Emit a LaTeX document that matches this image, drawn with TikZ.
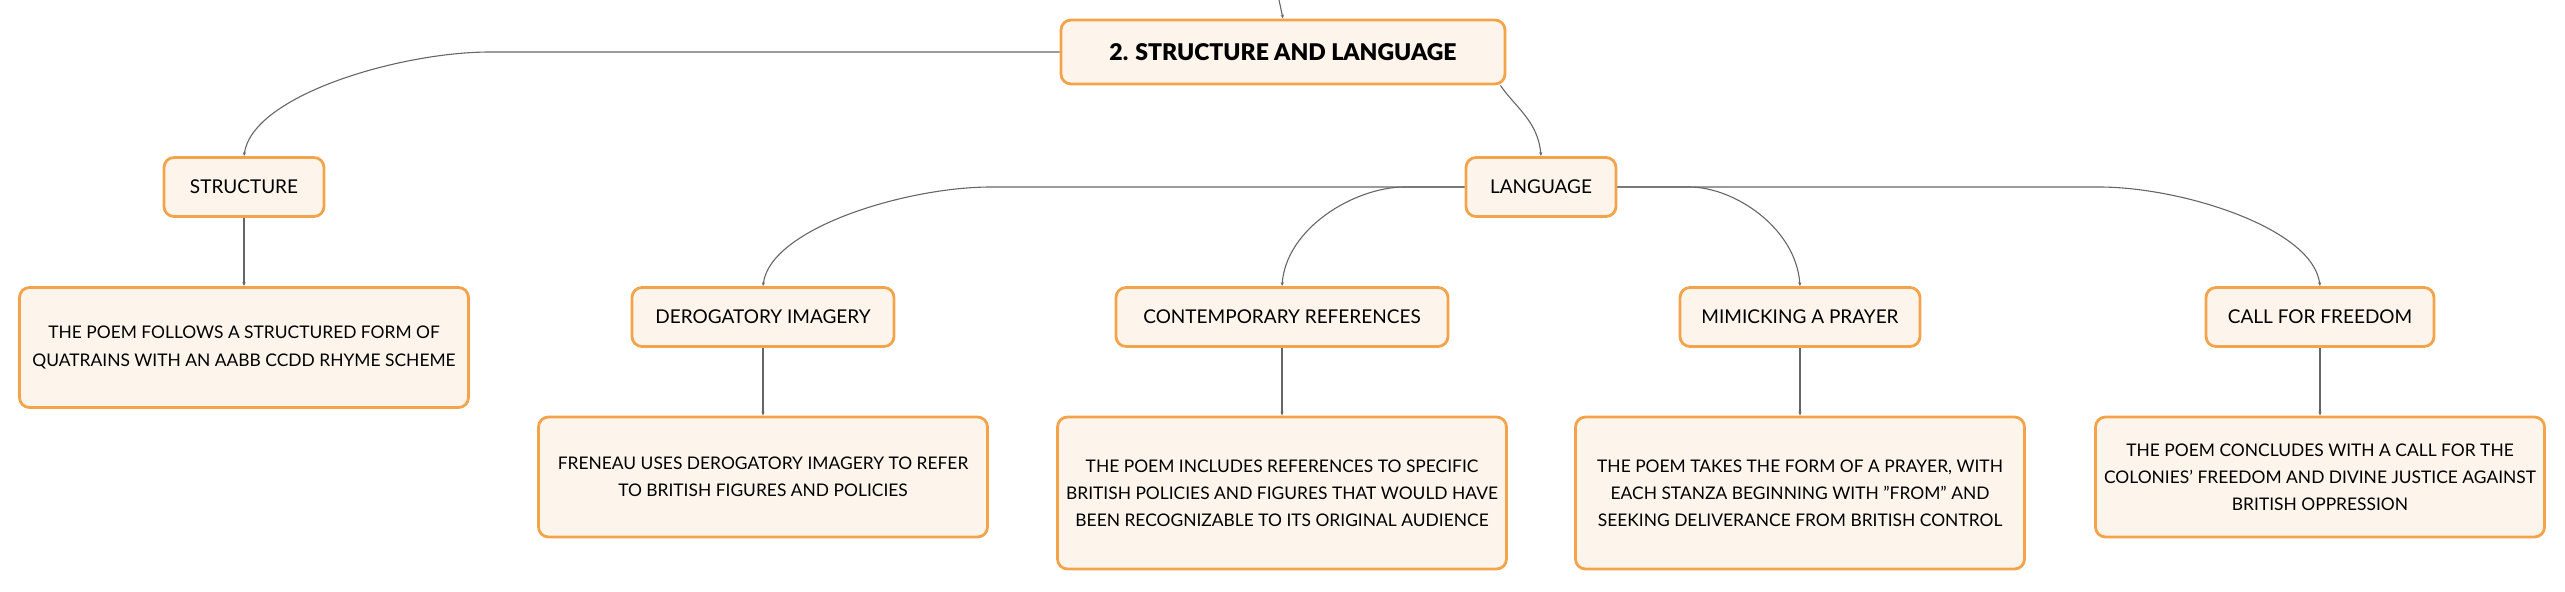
\documentclass[tikz,border=0pt]{standalone}
\usepackage{fontspec}
\setmainfont{Lato}
\newfontfamily\titlefont{Lato Black}
\usetikzlibrary{arrows.meta}

\definecolor{boxedge}{HTML}{F3A44B}
\definecolor{boxfill}{HTML}{FDF5EC}
\definecolor{linkgray}{HTML}{666666}

\tikzset{
  mapbox/.style={draw=boxedge, fill=boxfill, line width=1.4pt, rounded corners=5pt, align=center, inner sep=0pt, text=black},
  topicbox/.style={mapbox, minimum width=222pt, minimum height=32pt, font=\fontsize{11.5}{14}\selectfont\titlefont},
  branchbox/.style={mapbox, minimum height=29.5pt, font=\fontsize{9.5}{11}\selectfont},
  notebox/.style={mapbox, minimum width=224.5pt, font=\fontsize{8.7}{13.6}\selectfont},
  link/.style={draw=linkgray, line width=0.55pt, -{Stealth[length=2pt,width=1.6pt]}}
}

\begin{document}
\begin{tikzpicture}[x=0.5pt,y=0.5pt,yscale=-1,xscale=1]
\useasboundingbox (0,0) rectangle (2565,591);

% Main topic
\node[topicbox] (topic) at (1283,52) {2. STRUCTURE AND LANGUAGE};
\coordinate (entry) at (1279,0);

% Branches
\node[branchbox, minimum width=80pt] (structure) at (244,187) {STRUCTURE};
\node[branchbox, minimum width=75pt] (language) at (1541,187) {LANGUAGE};
\node[branchbox, minimum width=131pt] (imagery) at (763,317) {DEROGATORY IMAGERY};
\node[branchbox, minimum width=166pt] (references) at (1282,317) {CONTEMPORARY REFERENCES};
\node[branchbox, minimum width=120pt] (prayer) at (1800,317) {MIMICKING A PRAYER};
\node[branchbox, minimum width=114pt] (freedom) at (2320,317) {CALL FOR FREEDOM};

% Notes
\node[notebox, minimum height=60pt] (structurenote) at (244,347.5) {THE POEM FOLLOWS A STRUCTURED FORM OF\\QUATRAINS WITH AN AABB CCDD RHYME SCHEME};
\node[notebox, minimum height=60pt] (imagerynote) at (763,477) {FRENEAU USES DEROGATORY IMAGERY TO REFER\\TO BRITISH FIGURES AND POLICIES};
\node[notebox, minimum height=76pt] (referencesnote) at (1282,493) {THE POEM INCLUDES REFERENCES TO SPECIFIC\\BRITISH POLICIES AND FIGURES THAT WOULD HAVE\\BEEN RECOGNIZABLE TO ITS ORIGINAL AUDIENCE};
\node[notebox, minimum height=76pt] (prayernote) at (1800,493) {THE POEM TAKES THE FORM OF A PRAYER, WITH\\EACH STANZA BEGINNING WITH "FROM" AND\\SEEKING DELIVERANCE FROM BRITISH CONTROL};
\node[notebox, minimum height=60pt] (freedomnote) at (2320,477) {THE POEM CONCLUDES WITH A CALL FOR THE\\COLONIES' FREEDOM AND DIVINE JUSTICE AGAINST\\BRITISH OPPRESSION};

% Connectors
\draw[link] (entry) -- (topic.north);
\draw[link] (topic.west) -- ++(-570,0) .. controls +(-89,0) and +(8,-61) .. (structure.north);
\draw[link] ([xshift=-3pt]topic.south east) .. controls +(15,22) and +(-3,-35) .. (language.north);
\draw[link] (language.west) -- ++(-474,0) .. controls +(-84,0) and +(7,-58) .. (imagery.north);
\draw[link] (language.west) -- ++(-60,0) .. controls +(-50,0) and +(4,-58) .. (references.north);
\draw[link] (language.east) -- ++(72,0) .. controls +(45,0) and +(-4,-58) .. (prayer.north);
\draw[link] (language.east) -- ++(482,0) .. controls +(82,0) and +(-7,-58) .. (freedom.north);
\draw[link] (structure.south) -- (structurenote.north);
\draw[link] (imagery.south) -- (imagerynote.north);
\draw[link] (references.south) -- (referencesnote.north);
\draw[link] (prayer.south) -- (prayernote.north);
\draw[link] (freedom.south) -- (freedomnote.north);

\end{tikzpicture}
\end{document}
